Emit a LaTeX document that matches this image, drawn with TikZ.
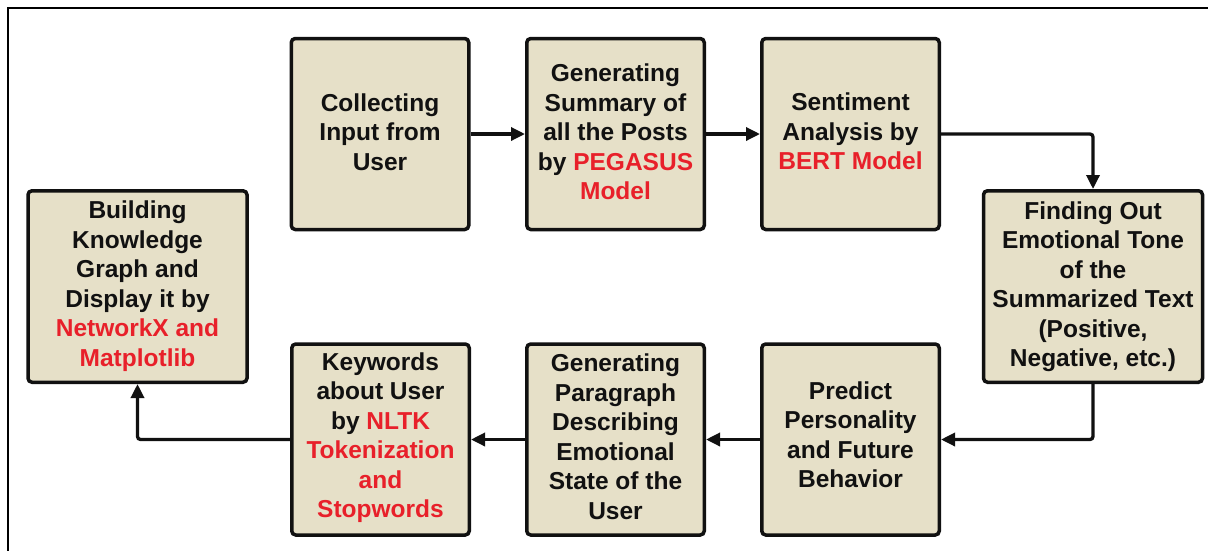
\documentclass[tikz,border=0pt]{standalone}
\usepackage{fontspec}
\setmainfont{Liberation Sans}
\usetikzlibrary{arrows.meta}
\definecolor{boxfill}{HTML}{E6E0C8}
\definecolor{hired}{HTML}{E8202A}
\definecolor{ink}{HTML}{111111}
\newcommand{\rd}[1]{\textcolor{hired}{#1}}
\begin{document}
\begin{tikzpicture}[x=1pt,y=-1pt,
  stagebox/.style={draw=ink, fill=boxfill, line width=3.5pt, rounded corners=4pt, inner sep=0pt},
  stagetext/.style={align=center, text=ink, inner sep=0pt,
    font=\fontsize{24.5}{29.5}\selectfont\bfseries},
  narrowbox/.style={stagebox, minimum width=177.5pt, minimum height=191pt},
  widebox/.style={stagebox, minimum width=219pt, minimum height=191.5pt},
  flow/.style={draw=ink, line width=3.3pt, -{Triangle[length=14pt,width=13pt]}}
]
\useasboundingbox (0,0) rectangle (1208,550);
\fill[white] (0,0) rectangle (1208,550);
% outer frame (partly cut off)
\draw[line width=2pt, black] (8,560) -- (8,8) -- (1220,8);

\node[narrowbox, label={[stagetext, yshift=2pt]center:{Collecting\\Input from\\User}}] (collect) at (380,134) {};
\node[narrowbox, label={[stagetext, yshift=2pt]center:{Generating\\Summary of\\all the Posts\\by \rd{PEGASUS}\\\rd{Model}}}] (summary) at (615.5,134) {};
\node[narrowbox, label={[stagetext, yshift=2.5pt]center:{Sentiment\\Analysis by\\\rd{BERT Model}}}] (sentiment) at (850.5,134) {};
\node[widebox, label={[stagetext]center:{Finding Out\\Emotional Tone\\of the\\Summarized Text\\(Positive,\\Negative, etc.)}}] (finding) at (1093,286.5) {};
\node[narrowbox, label={[stagetext, yshift=5pt]center:{Predict\\Personality\\and Future\\Behavior}}] (predict) at (850.5,439.5) {};
\node[narrowbox, label={[stagetext, yshift=3pt]center:{Generating\\Paragraph\\Describing\\Emotional\\State of the\\User}}] (paragraph) at (615.5,439.5) {};
\node[narrowbox, label={[stagetext, yshift=2pt]center:{Keywords\\about User\\by \rd{NLTK}\\\rd{Tokenization}\\\rd{and}\\\rd{Stopwords}}}] (keywords) at (380.5,439.5) {};
\node[widebox, label={[stagetext, yshift=0.5pt]center:{Building\\Knowledge\\Graph and\\Display it by\\\rd{NetworkX and}\\\rd{Matplotlib}}}] (building) at (137.5,286.5) {};

\draw[flow] (collect) -- (summary);
\draw[flow] (summary) -- (sentiment);
\draw[flow, rounded corners=3pt] (sentiment.east) -| (finding.north);
\draw[flow, rounded corners=3pt] (finding.south) |- (predict.east);
\draw[flow] (predict) -- (paragraph);
\draw[flow] (paragraph) -- (keywords);
\draw[flow, rounded corners=3pt] (keywords.west) -| (building.south);
\end{tikzpicture}
\end{document}
